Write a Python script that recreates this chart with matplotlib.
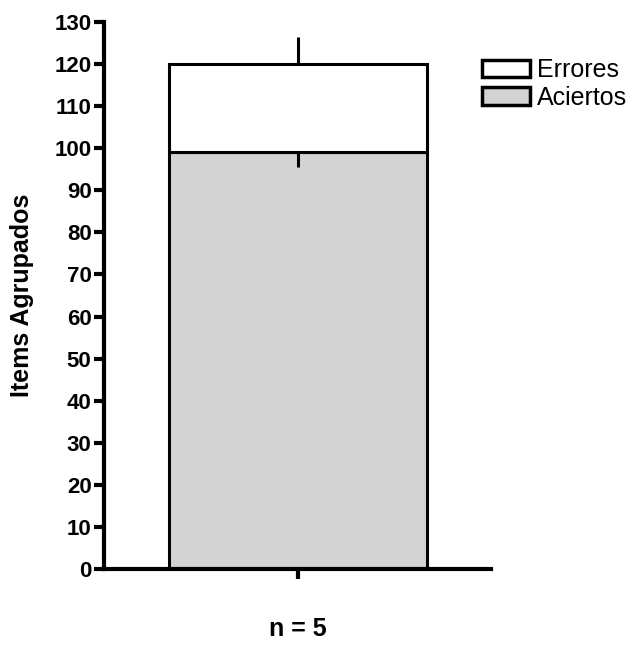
import matplotlib.pyplot as plt
from matplotlib.patches import Patch

plt.rcParams['font.family'] = ['Liberation Sans', 'DejaVu Sans']

# data
groups = ['n = 5']
aciertos = [99]
errores = [21]
aciertos_sd = [3.5]
errores_sd = [6.5]

fig = plt.figure(figsize=(6.38, 6.48), dpi=100)
ax = fig.add_axes([104/638, 1 - 569/648, (491 - 104)/638, (569 - 22)/648])

x = [0]
ax.bar(x, aciertos, width=1.0, color='#d3d3d3', edgecolor='black', linewidth=2.2, zorder=2)
ax.bar(x, errores, bottom=aciertos, width=1.0, color='white', edgecolor='black', linewidth=2.2, zorder=2)

tops = [a + e for a, e in zip(aciertos, errores)]
ax.errorbar(x, tops, yerr=[[0], errores_sd], fmt='none', ecolor='black', elinewidth=2.2, capsize=0, zorder=3)
ax.errorbar(x, aciertos, yerr=[aciertos_sd, [0]], fmt='none', ecolor='black', elinewidth=2.2, capsize=0, zorder=3)

ax.set_xlim(-0.75, 0.75)
ax.set_ylim(0, 130)
ax.set_yticks(range(0, 131, 10))
ax.set_xticks(x)
ax.set_xticklabels([''])
ax.set_xlabel(groups[0], fontsize=18, fontweight='bold', labelpad=24)
ax.set_ylabel('Items Agrupados', fontsize=18, fontweight='bold', labelpad=15)

for s in ['top', 'right']:
    ax.spines[s].set_visible(False)
for s in ['left', 'bottom']:
    ax.spines[s].set_linewidth(3)
ax.tick_params(axis='y', length=7, width=3, labelsize=16, pad=2)
ax.tick_params(axis='x', length=7, width=3, direction='out')
for lab in ax.get_yticklabels():
    lab.set_fontweight('bold')

handles = [Patch(facecolor='white', edgecolor='black', linewidth=2.5, label='Errores'),
           Patch(facecolor='#d3d3d3', edgecolor='black', linewidth=2.5, label='Aciertos')]
fig.legend(handles=handles, loc='upper left', bbox_to_anchor=(472/638, 1 - 48/648),
           frameon=False, fontsize=18, handlelength=1.9, handleheight=0.7,
           handletextpad=0.3, labelspacing=0.15, borderaxespad=0)

fig.savefig('out.png', dpi=100)
